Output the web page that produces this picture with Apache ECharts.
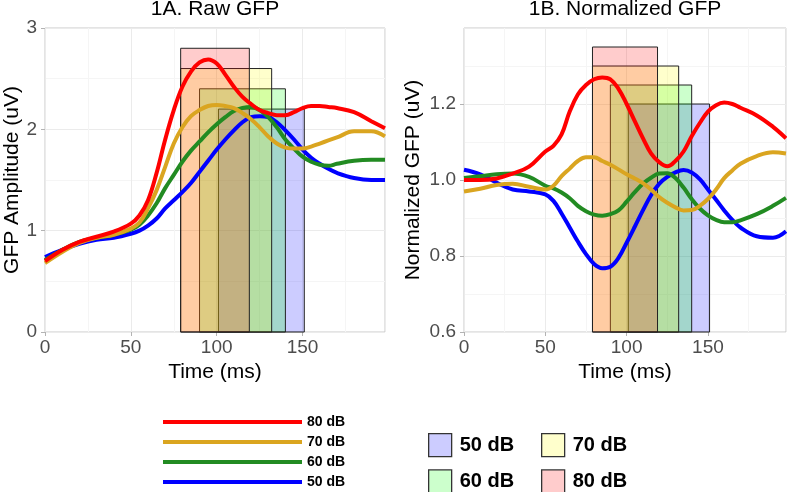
<!DOCTYPE html>
<html>
<head>
<meta charset="utf-8">
<script src="https://cdn.jsdelivr.net/npm/echarts@6/dist/echarts.min.js"></script>
<style>
html,body{margin:0;padding:0;background:#fff;}
#chart{width:787px;height:492px;}
</style>
</head>
<body>
<div id="chart"></div>
<script>
// ---- data ----
const times = [0,10,20,30,40,50,55,60,65,70,75,80,85,90,95,100,105,110,115,120,125,130,135,140,145,150,155,160,165,170,180,190,198];

const raw80 = [0.70,0.81,0.89,0.94,0.99,1.07,1.15,1.30,1.57,1.90,2.19,2.42,2.57,2.66,2.69,2.65,2.54,2.42,2.32,2.25,2.19,2.16,2.14,2.14,2.17,2.21,2.23,2.23,2.22,2.21,2.17,2.08,2.01];
const raw70 = [0.68,0.79,0.88,0.93,0.96,1.02,1.08,1.22,1.40,1.63,1.86,2.02,2.13,2.19,2.23,2.24,2.23,2.21,2.16,2.10,2.02,1.93,1.86,1.82,1.81,1.81,1.83,1.86,1.89,1.92,1.98,1.98,1.93];
const raw60 = [0.71,0.81,0.89,0.93,0.96,1.01,1.06,1.15,1.27,1.42,1.55,1.68,1.79,1.88,1.97,2.05,2.12,2.18,2.21,2.22,2.19,2.12,2.02,1.90,1.81,1.73,1.68,1.65,1.64,1.66,1.69,1.70,1.70];
const raw50 = [0.74,0.81,0.87,0.91,0.93,0.97,1.00,1.05,1.12,1.22,1.30,1.38,1.47,1.58,1.69,1.80,1.90,1.99,2.07,2.12,2.13,2.12,2.07,1.99,1.90,1.80,1.72,1.66,1.61,1.57,1.52,1.50,1.50];

const norm80 = [1.00,1.00,1.004,1.017,1.035,1.075,1.09,1.12,1.18,1.225,1.25,1.265,1.27,1.265,1.24,1.20,1.155,1.11,1.07,1.047,1.036,1.05,1.075,1.115,1.15,1.18,1.197,1.204,1.20,1.19,1.17,1.14,1.11];
const norm70 = [0.97,0.977,0.987,0.99,0.982,0.975,0.985,1.01,1.03,1.05,1.06,1.06,1.05,1.04,1.028,1.015,1.004,0.992,0.975,0.955,0.94,0.928,0.92,0.921,0.932,0.95,0.975,1.005,1.025,1.043,1.063,1.073,1.07];
const norm60 = [1.005,1.01,1.015,1.017,1.008,0.985,0.978,0.967,0.952,0.932,0.918,0.909,0.906,0.91,0.92,0.943,0.968,0.99,1.006,1.017,1.018,1.005,0.98,0.95,0.925,0.907,0.895,0.889,0.889,0.894,0.91,0.932,0.953];
const norm50 = [1.027,1.015,0.993,0.975,0.970,0.962,0.945,0.912,0.875,0.838,0.805,0.779,0.768,0.772,0.795,0.835,0.877,0.92,0.96,0.99,1.008,1.02,1.026,1.02,1.002,0.975,0.948,0.92,0.895,0.875,0.852,0.848,0.865];

// window rectangles (order: 50, 60, 70, 80 dB)
const levels = ['50 dB','60 dB','70 dB','80 dB'];
const rectStart = [101, 90, 79, 79];
const rectEnd   = [151, 140, 132, 119];
const rawTop    = [2.2, 2.4, 2.6, 2.8];
const normTop   = [1.2, 1.25, 1.3, 1.35];

// axes
const xMin = 0, xMax = 198, xStep = 50;
const rawMin = 0, rawMax = 3, rawStep = 1;
const normMin = 0.6, normMax = 1.4, normStep = 0.2;

// ---- styles ----
const lineColors = {'50 dB':'#0000FF','60 dB':'#228B22','70 dB':'#DAA520','80 dB':'#FF0000'};
const rectFill = ['rgba(0,0,255,0.2)','rgba(0,255,0,0.2)','rgba(255,255,0,0.2)','rgba(255,0,0,0.2)'];
const FONT = 'Liberation Sans, Arial, sans-serif';

const chart = echarts.init(document.getElementById('chart'), null, {renderer:'canvas'});

function xAxisCfg(gi){
  return {
    type:'value', gridIndex:gi, min:xMin, max:xMax, interval:xStep,
    name:'Time (ms)', nameLocation:'middle', nameGap:26,
    nameTextStyle:{fontFamily:FONT, fontSize:21, color:'#000'},
    axisLine:{show:false},
    axisTick:{show:true, length:4, lineStyle:{color:'#B3B3B3'}},
    axisLabel:{fontFamily:FONT, fontSize:19, color:'#4D4D4D', margin:6, showMaxLabel:false},
    splitLine:{show:true, lineStyle:{color:'#EBEBEB', width:1}},
    minorTick:{show:false, splitNumber:2},
    minorSplitLine:{show:true, lineStyle:{color:'#F5F5F5', width:1}}
  };
}
function yAxisCfg(gi, mn, mx, st, name, gap, fmt){
  return {
    type:'value', gridIndex:gi, min:mn, max:mx, interval:st,
    name:name, nameLocation:'middle', nameGap:gap,
    nameTextStyle:{fontFamily:FONT, fontSize:21, color:'#000'},
    axisLine:{show:false},
    axisTick:{show:true, length:4, lineStyle:{color:'#B3B3B3'}},
    axisLabel:{fontFamily:FONT, fontSize:19, color:'#4D4D4D', margin:8, formatter:fmt, showMaxLabel: gi===0},
    splitLine:{show:true, lineStyle:{color:'#EBEBEB', width:1}},
    minorTick:{show:false, splitNumber:2},
    minorSplitLine:{show:true, lineStyle:{color:'#F5F5F5', width:1}}
  };
}

function rectSeries(gi, idx, tops, yBase){
  return {
    type:'custom', name:'r'+idx, xAxisIndex:gi, yAxisIndex:gi,
    itemStyle:{color:rectFill[idx], borderColor:'#222', borderWidth:1},
    data:[[rectStart[idx], rectEnd[idx], tops[idx]]],
    renderItem:function(params, api){
      const p0 = api.coord([api.value(0), api.value(2)]);
      const p1 = api.coord([api.value(1), yBase]);
      return {
        type:'rect',
        shape:{x:p0[0], y:p0[1], width:p1[0]-p0[0], height:p1[1]-p0[1]},
        style:{fill:rectFill[idx], stroke:'#222', lineWidth:1}
      };
    },
    z:1
  };
}
function lineSeries(gi, name, vals){
  return {
    type:'line', name:name, xAxisIndex:gi, yAxisIndex:gi,
    data:times.map((t,i)=>[t, vals[i]]),
    smooth:0.4, showSymbol:false, symbol:'none',
    color:lineColors[name],
    lineStyle:{color:lineColors[name], width:4},
    itemStyle:{color:lineColors[name]},
    z:3, silent:true
  };
}

const rawSets = {'50 dB':raw50,'60 dB':raw60,'70 dB':raw70,'80 dB':raw80};
const normSets = {'50 dB':norm50,'60 dB':norm60,'70 dB':norm70,'80 dB':norm80};

const series = [];
for (let i=0;i<4;i++) series.push(rectSeries(0, i, rawTop, rawMin));
for (let i=0;i<4;i++) series.push(rectSeries(1, i, normTop, normMin));
levels.forEach(l=>series.push(lineSeries(0, l, rawSets[l])));
levels.forEach(l=>series.push(lineSeries(1, l, normSets[l])));

const boxLegend = (names, left)=>({
  orient:'vertical', left:left, top:433, padding:0, height:70,
  itemWidth:23, itemHeight:23, itemGap:12,
  icon:'rect', selectedMode:false,
  data:names,
  formatter:function(n){ return levels[+n.slice(1)]; },
  itemStyle:{borderColor:'#333', borderWidth:1.3},
  textStyle:{fontFamily:FONT, fontSize:20, fontWeight:'bold', color:'#000', lineHeight:23, padding:[0,0,0,3]}
});

chart.setOption({
  animation:false,
  backgroundColor:'#fff',
  title:[
    {text:'1A. Raw GFP', left:215, top:-1, padding:0, textAlign:'center', textStyle:{fontFamily:FONT, fontSize:21, fontWeight:'normal', color:'#000'}},
    {text:'1B. Normalized GFP', left:625, top:-1, padding:0, textAlign:'center', textStyle:{fontFamily:FONT, fontSize:21, fontWeight:'normal', color:'#000'}}
  ],
  grid:[
    {left:45, top:28, width:340, height:304, show:true, borderColor:'#C8C8C8', borderWidth:1, backgroundColor:'transparent'},
    {left:464, top:28, width:322, height:304, show:true, borderColor:'#C8C8C8', borderWidth:1, backgroundColor:'transparent'}
  ],
  xAxis:[xAxisCfg(0), xAxisCfg(1)],
  yAxis:[
    yAxisCfg(0, rawMin, rawMax, rawStep, 'GFP Amplitude (uV)', 20, v=>String(v)),
    yAxisCfg(1, normMin, normMax, normStep, 'Normalized GFP (uV)', 40, v=>v.toFixed(1))
  ],
  legend:[
    {
      orient:'vertical', left:163, top:414, padding:0, height:80,
      itemWidth:139, itemHeight:4, itemGap:4,
      icon:'rect', selectedMode:false,
      data:['80 dB','70 dB','60 dB','50 dB'],
      textStyle:{fontFamily:FONT, fontSize:14, fontWeight:'bold', color:'#000', lineHeight:16}
    },
    boxLegend(['r0','r1'], 428),
    boxLegend(['r2','r3'], 541)
  ],
  series:series
});
</script>
</body>
</html>
